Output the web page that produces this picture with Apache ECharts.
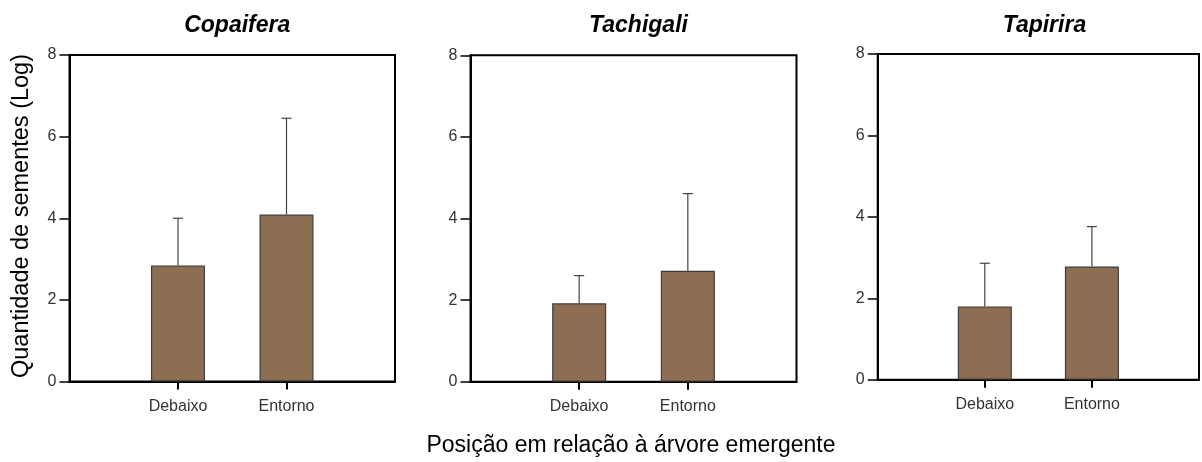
<!DOCTYPE html>
<html><head><meta charset="utf-8">
<script src="https://cdn.jsdelivr.net/npm/echarts@6/dist/echarts.min.js"></script>
<style>html,body{margin:0;padding:0;background:#fff}#c{width:1202px;height:462px}</style>
</head><body><div id="c"></div>
<script>
const species = ['Copaifera', 'Tachigali', 'Tapirira'];
const categories = ['', 'Debaixo', 'Entorno', ''];
const copaiferaMean = [2.84, 4.09];
const copaiferaUpper = [4.0, 6.45];
const tachigaliMean = [1.92, 2.72];
const tachigaliUpper = [2.6, 4.61];
const tapiriraMean = [1.80, 2.78];
const tapiriraUpper = [2.86, 3.76];
const yTicks = [0, 2, 4, 6, 8];
const yTitle = 'Quantidade de sementes (Log)';
const xTitle = 'Posição em relação à árvore emergente';

const means = [copaiferaMean, tachigaliMean, tapiriraMean];
const uppers = [copaiferaUpper, tachigaliUpper, tapiriraUpper];
const grids = [
  {left: 69.5, top: 55, width: 325.5, height: 326.5},
  {left: 470.5, top: 55.3, width: 326, height: 326.4},
  {left: 877.7, top: 54, width: 323.5, height: 325.7}
];
const FONT = 'Liberation Sans, Arial, sans-serif';
const chart = echarts.init(document.getElementById('c'));

const option = {
  animation: false,
  title: species.map((s, i) => ({
    text: s,
    left: grids[i].left + grids[i].width / 2,
    top: 9,
    textAlign: 'center',
    textStyle: {fontFamily: FONT, fontSize: 23, fontWeight: 'bold', fontStyle: 'italic', color: '#000'}
  })),
  grid: grids.map(g => Object.assign({show: true, borderColor: '#000', borderWidth: 2, backgroundColor: 'transparent'}, g)),
  xAxis: grids.map((g, i) => ({
    type: 'category', gridIndex: i, data: categories, boundaryGap: false,
    axisLine: {lineStyle: {color: '#000', width: 2}},
    axisTick: {show: true, length: 8, lineStyle: {color: '#000', width: 2},
      interval: (idx) => idx === 1 || idx === 2},
    axisLabel: {interval: 0, margin: 17, fontFamily: FONT, fontSize: 16, color: '#333',
      formatter: v => v},
    splitLine: {show: false}
  })),
  yAxis: grids.map((g, i) => ({
    type: 'value', gridIndex: i, min: 0, max: 8, interval: 2,
    axisLine: {show: true, lineStyle: {color: '#000', width: 2}},
    axisTick: {show: true, length: 10, lineStyle: {color: '#000', width: 1.5}},
    axisLabel: {margin: 13, fontFamily: FONT, fontSize: 16, color: '#333',
      formatter: v => yTicks.includes(v) ? String(v) : ''},
    splitLine: {show: false}
  })),
  graphic: [
    {type: 'text', x: 22, y: 216, rotation: Math.PI / 2,
      style: {text: yTitle, font: '23.5px ' + FONT, fill: '#000', align: 'center', verticalAlign: 'middle'}},
    {type: 'text', x: 631, y: 446,
      style: {text: xTitle, font: '23px ' + FONT, fill: '#000', align: 'center', verticalAlign: 'middle'}}
  ],
  series: []
};

means.forEach((m, i) => {
  option.series.push({
    type: 'custom', xAxisIndex: i, yAxisIndex: i, z: 1,
    data: m.map((v, k) => [k + 1, v, uppers[i][k]]),
    renderItem: (params, api) => {
      const x = api.value(0);
      const top = api.coord([x, api.value(1)]);
      const up = api.coord([x, api.value(2)]);
      return {type: 'group', children: [
        {type: 'line', shape: {x1: top[0], y1: top[1], x2: up[0], y2: up[1]}, style: {stroke: '#444', lineWidth: 1.2}},
        {type: 'line', shape: {x1: up[0] - 5, y1: up[1], x2: up[0] + 5, y2: up[1]}, style: {stroke: '#444', lineWidth: 1.2}}
      ]};
    }
  });
  option.series.push({
    type: 'bar', xAxisIndex: i, yAxisIndex: i, barWidth: 54, z: 2,
    data: [null, m[0], m[1], null],
    itemStyle: {color: '#8E6E53', borderColor: '#3d3d3d', borderWidth: 1.2}
  });
});
chart.setOption(option);
</script></body></html>
